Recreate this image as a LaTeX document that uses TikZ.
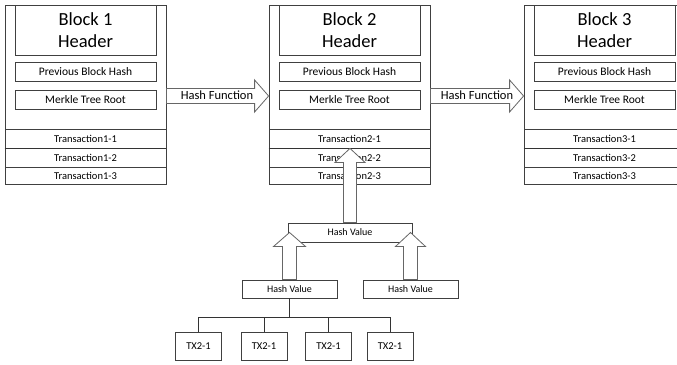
\documentclass[tikz,border=0pt]{standalone}
\usepackage{fontspec}
\setmainfont{Carlito}
\usetikzlibrary{calc}
\tikzset{
  boxline/.style={draw=black!75, line width=0.8pt},
  outerbox/.style={boxline, minimum width=161pt, minimum height=179pt, inner sep=0pt},
  hdrbox/.style={boxline, minimum width=141pt, minimum height=50pt, inner sep=0pt, align=center, font=\fontsize{18.5}{22}\selectfont},
  fieldbox/.style={boxline, minimum width=141pt, minimum height=19pt, inner sep=0pt, font=\fontsize{11.5}{13}\selectfont},
  rowbox/.style={boxline, minimum width=161pt, inner sep=0pt, font=\fontsize{10.5}{12}\selectfont},
  hvbox/.style={boxline, fill=white, inner sep=0pt, font=\fontsize{10}{12}\selectfont},
  txbox/.style={boxline, minimum width=46pt, minimum height=28pt, inner sep=0pt, font=\fontsize{10.5}{12}\selectfont},
  arrowbody/.style={draw=black!60, fill=white, line width=0.8pt, line join=miter},
  hflabel/.style={inner sep=0pt, font=\fontsize{12.5}{14}\selectfont},
  treeline/.style={draw=black!80, line width=1pt}
}
\newcommand\fatarrow[5]{%
  \coordinate (fas) at (#1);
  \coordinate (fat) at (#2);
  \coordinate (fah) at ($(fat)!#5!(fas)$);
  \draw[arrowbody] ($(fas)!#3!90:(fat)$) -- ($(fah)!#3!90:(fat)$) -- ($(fah)!#4!90:(fat)$) -- (fat) -- ($(fah)!#4!-90:(fat)$) -- ($(fah)!#3!-90:(fat)$) -- ($(fas)!#3!-90:(fat)$) -- cycle;
}
\begin{document}
\begin{tikzpicture}[x=1pt, y=-1pt]
\useasboundingbox (0,0) rectangle (677,364);
\clip (0,0) rectangle (677,364);
\fill[white] (0,0) rectangle (677,364);
\foreach \i/\x in {1/85.5, 2/349.5, 3/604.5} {
  \node[outerbox] (blk\i) at (\x,94.5) {};
  \node[hdrbox] (hdr\i) at (\x,30) {Block \i\\Header};
  \node[fieldbox] (prev\i) at (\x,71.5) {Previous Block Hash};
  \node[fieldbox] (mrk\i) at (\x,99.5) {Merkle Tree Root};
  \node[rowbox, minimum height=19pt] (t\i1) at (\x,138.5) {Transaction\i-1};
  \node[rowbox, minimum height=19pt] (t\i2) at (\x,157.5) {Transaction\i-2};
  \node[rowbox, minimum height=17pt] (t\i3) at (\x,175.5) {Transaction\i-3};
  \draw[draw=black!80, line width=1.6pt] (t\i1.south west) -- (t\i1.south east);
}
% Merkle tree
\node[hvbox, minimum width=124pt, minimum height=19pt] (hvtop) at (350,232.5) {Hash Value};
\node[hvbox, minimum width=95pt, minimum height=18pt] (hv1) at (289.5,289) {Hash Value};
\node[hvbox, minimum width=95pt, minimum height=18pt] (hv2) at (410.5,289) {Hash Value};
\node[txbox] (tx1) at (198.5,346) {TX2-1};
\node[txbox] (tx2) at (264,346) {TX2-1};
\node[txbox] (tx3) at (328.5,346) {TX2-1};
\node[txbox] (tx4) at (390,346) {TX2-1};
\coordinate (bus) at (289.5,317);
\draw[treeline] (hv1.south) -- (bus);
\draw[treeline] (bus) -| (tx1.north);
\draw[treeline] (bus) -| (tx2.north);
\draw[treeline] (bus) -| (tx3.north);
\draw[treeline] (bus) -| (tx4.north);
% fat arrows
\fatarrow{hvtop.north}{hvtop.north |- t21.south}{6.5pt}{15pt}{14pt}
\fatarrow{hv1.north}{hv1.north |- hvtop.center}{7pt}{16pt}{14pt}
\fatarrow{hv2.north}{hv2.north |- hvtop.center}{7pt}{15pt}{14pt}
\fatarrow{$(blk1.east)+(0,1.5)$}{$(blk2.west)+(0,1.5)$}{7.5pt}{16pt}{14pt}
\fatarrow{$(blk2.east)+(0,1.5)$}{$(blk3.west)+(0,1.5)$}{7.5pt}{16pt}{14pt}
\node[hflabel] (hf1) at (217,95.5) {Hash Function};
\node[hflabel] (hf2) at (477,95.5) {Hash Function};
\end{tikzpicture}
\end{document}
